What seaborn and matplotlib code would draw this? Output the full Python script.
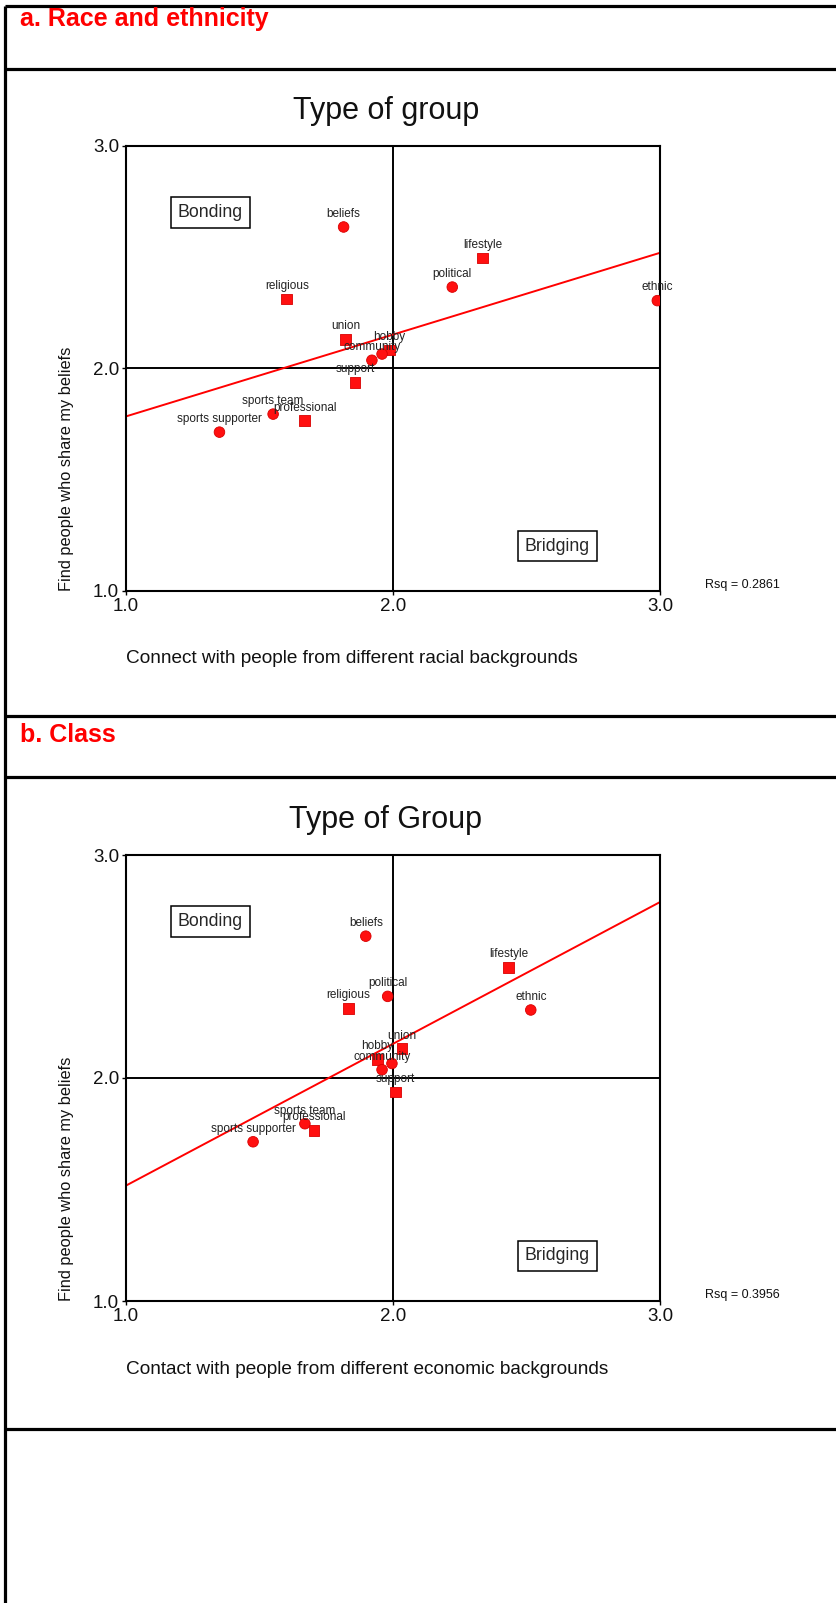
import matplotlib
matplotlib.use("Agg")
import matplotlib.pyplot as plt
from matplotlib.lines import Line2D
import pandas as pd
import seaborn as sns

# ---- data -------------------------------------------------------------
groups = ["beliefs", "religious", "union", "hobby", "", "community", "support",
          "sports team", "professional", "sports supporter", "lifestyle",
          "political", "ethnic"]
marker_kind = ["circle", "square", "square", "square", "circle", "circle", "square",
               "circle", "square", "circle", "square", "circle", "circle"]

# Mean agreement: "Find people who share my beliefs"
shares_beliefs = [2.636, 2.312, 2.131, 2.083, 2.065, 2.037, 1.938,
                  1.795, 1.765, 1.714, 2.496, 2.366, 2.305]
# Mean agreement: "Connect with people from different racial backgrounds"
racial_contact = [1.815, 1.602, 1.823, 1.986, 1.959, 1.921, 1.858,
                  1.551, 1.669, 1.350, 2.335, 2.222, 2.990]
# Mean agreement: "Contact with people from different economic backgrounds"
economic_contact = [1.898, 1.833, 2.034, 1.942, 1.996, 1.959, 2.009,
                    1.670, 1.704, 1.476, 2.433, 1.980, 2.516]

tick_values = [1.0, 2.0, 3.0]
tick_labels = ["1.0", "2.0", "3.0"]

panels = [
    dict(header="a. Race and ethnicity", title="Type of group", x=racial_contact,
         xlabel="Connect with people from different racial backgrounds",
         rsq="Rsq = 0.2861", top=146, bottom=591, header_y=19, title_y=111),
    dict(header="b. Class", title="Type of Group", x=economic_contact,
         xlabel="Contact with people from different economic backgrounds",
         rsq="Rsq = 0.3956", top=855, bottom=1301, header_y=735, title_y=820),
]

# ---- figure -------------------------------------------------------------
sns.set_theme(style="white")
plt.rcParams["font.family"] = ["Liberation Sans", "DejaVu Sans"]

W, H = 837, 1603
fig = plt.figure(figsize=(W / 100, H / 100), dpi=100)
fig.patch.set_facecolor("white")


def fy(y):
    return 1 - y / H


# outer frame and section rules
frame_kw = dict(transform=fig.transFigure, color="black", lw=2.3, solid_capstyle="butt")
fig.add_artist(Line2D([5 / W, 5 / W], [0, fy(6)], **frame_kw))
for yy in (6, 69, 716, 777, 1429):
    fig.add_artist(Line2D([5 / W, 1], [fy(yy), fy(yy)], **frame_kw))

left_px, right_px = 126, 660
width_px = right_px - left_px
for p in panels:
    fig.text(20 / W, fy(p["header_y"]), p["header"], color="#ff0000",
             fontweight="bold", fontsize=18, va="center", ha="left")

    ax = fig.add_axes([left_px / W, fy(p["bottom"]), width_px / W,
                       (p["bottom"] - p["top"]) / H])
    df = pd.DataFrame({"x": p["x"], "y": shares_beliefs,
                       "kind": marker_kind, "label": groups})

    ax.set_xlim(1, 3)
    ax.set_ylim(1, 3)
    ax.axvline(2, color="black", lw=1.4, zorder=1)
    ax.axhline(2, color="black", lw=1.4, zorder=1)

    sns.regplot(data=df, x="x", y="y", scatter=False, ci=None, truncate=False,
                color="#ff0000", line_kws=dict(lw=1.4, zorder=2), ax=ax)
    sns.scatterplot(data=df, x="x", y="y", style="kind",
                    markers={"circle": "o", "square": "s"}, color="#ff1010",
                    edgecolor="#d80000", linewidth=0.6, s=58, legend=False,
                    zorder=3, ax=ax)
    for _, r in df.iterrows():
        if r["label"]:
            ax.annotate(r["label"], (r["x"], r["y"]), xytext=(0, 9.5),
                        textcoords="offset points", ha="center", va="center",
                        fontsize=8.5, color="#222222", zorder=4)

    ax.set_xlim(1, 3)
    ax.set_ylim(1, 3)
    ax.set_xticks(tick_values)
    ax.set_xticklabels(tick_labels)
    ax.set_yticks(tick_values)
    ax.set_yticklabels(tick_labels)
    ax.tick_params(bottom=True, left=True, direction="out", length=3, width=1,
                   color="black", labelsize=13.5, pad=2, labelcolor="#111111")
    ax.set_xlabel("")
    ax.set_ylabel("")
    for s in ax.spines.values():
        s.set_visible(True)
        s.set_color("black")
        s.set_linewidth(1.5)

    h = p["bottom"] - p["top"]
    ax.text((386 - left_px) / width_px, 1 + (p["top"] - p["title_y"]) / h, p["title"],
            transform=ax.transAxes, ha="center", va="center", fontsize=22,
            color="#111111")
    ax.text(0.0, -68 / h, p["xlabel"], transform=ax.transAxes, ha="left",
            va="center", fontsize=13.7, color="#111111")
    ax.text((67 - left_px) / width_px, 0.0, "Find people who share my beliefs",
            transform=ax.transAxes, rotation=90, ha="center", va="bottom",
            fontsize=11.8, color="#111111")
    ax.text((705 - left_px) / width_px, 6 / h, p["rsq"],
            transform=ax.transAxes, ha="left", va="center", fontsize=9,
            color="#111111")

    box = dict(boxstyle="square,pad=0.38", facecolor="white", edgecolor="black", lw=1.1)
    ax.text(0.158, 0.851, "Bonding", transform=ax.transAxes, ha="center",
            va="center", fontsize=12.8, bbox=box, zorder=5)
    ax.text(0.808, 0.101, "Bridging", transform=ax.transAxes, ha="center",
            va="center", fontsize=12.8, bbox=box, zorder=5)

fig.savefig("out.png", dpi=100, facecolor="white")
